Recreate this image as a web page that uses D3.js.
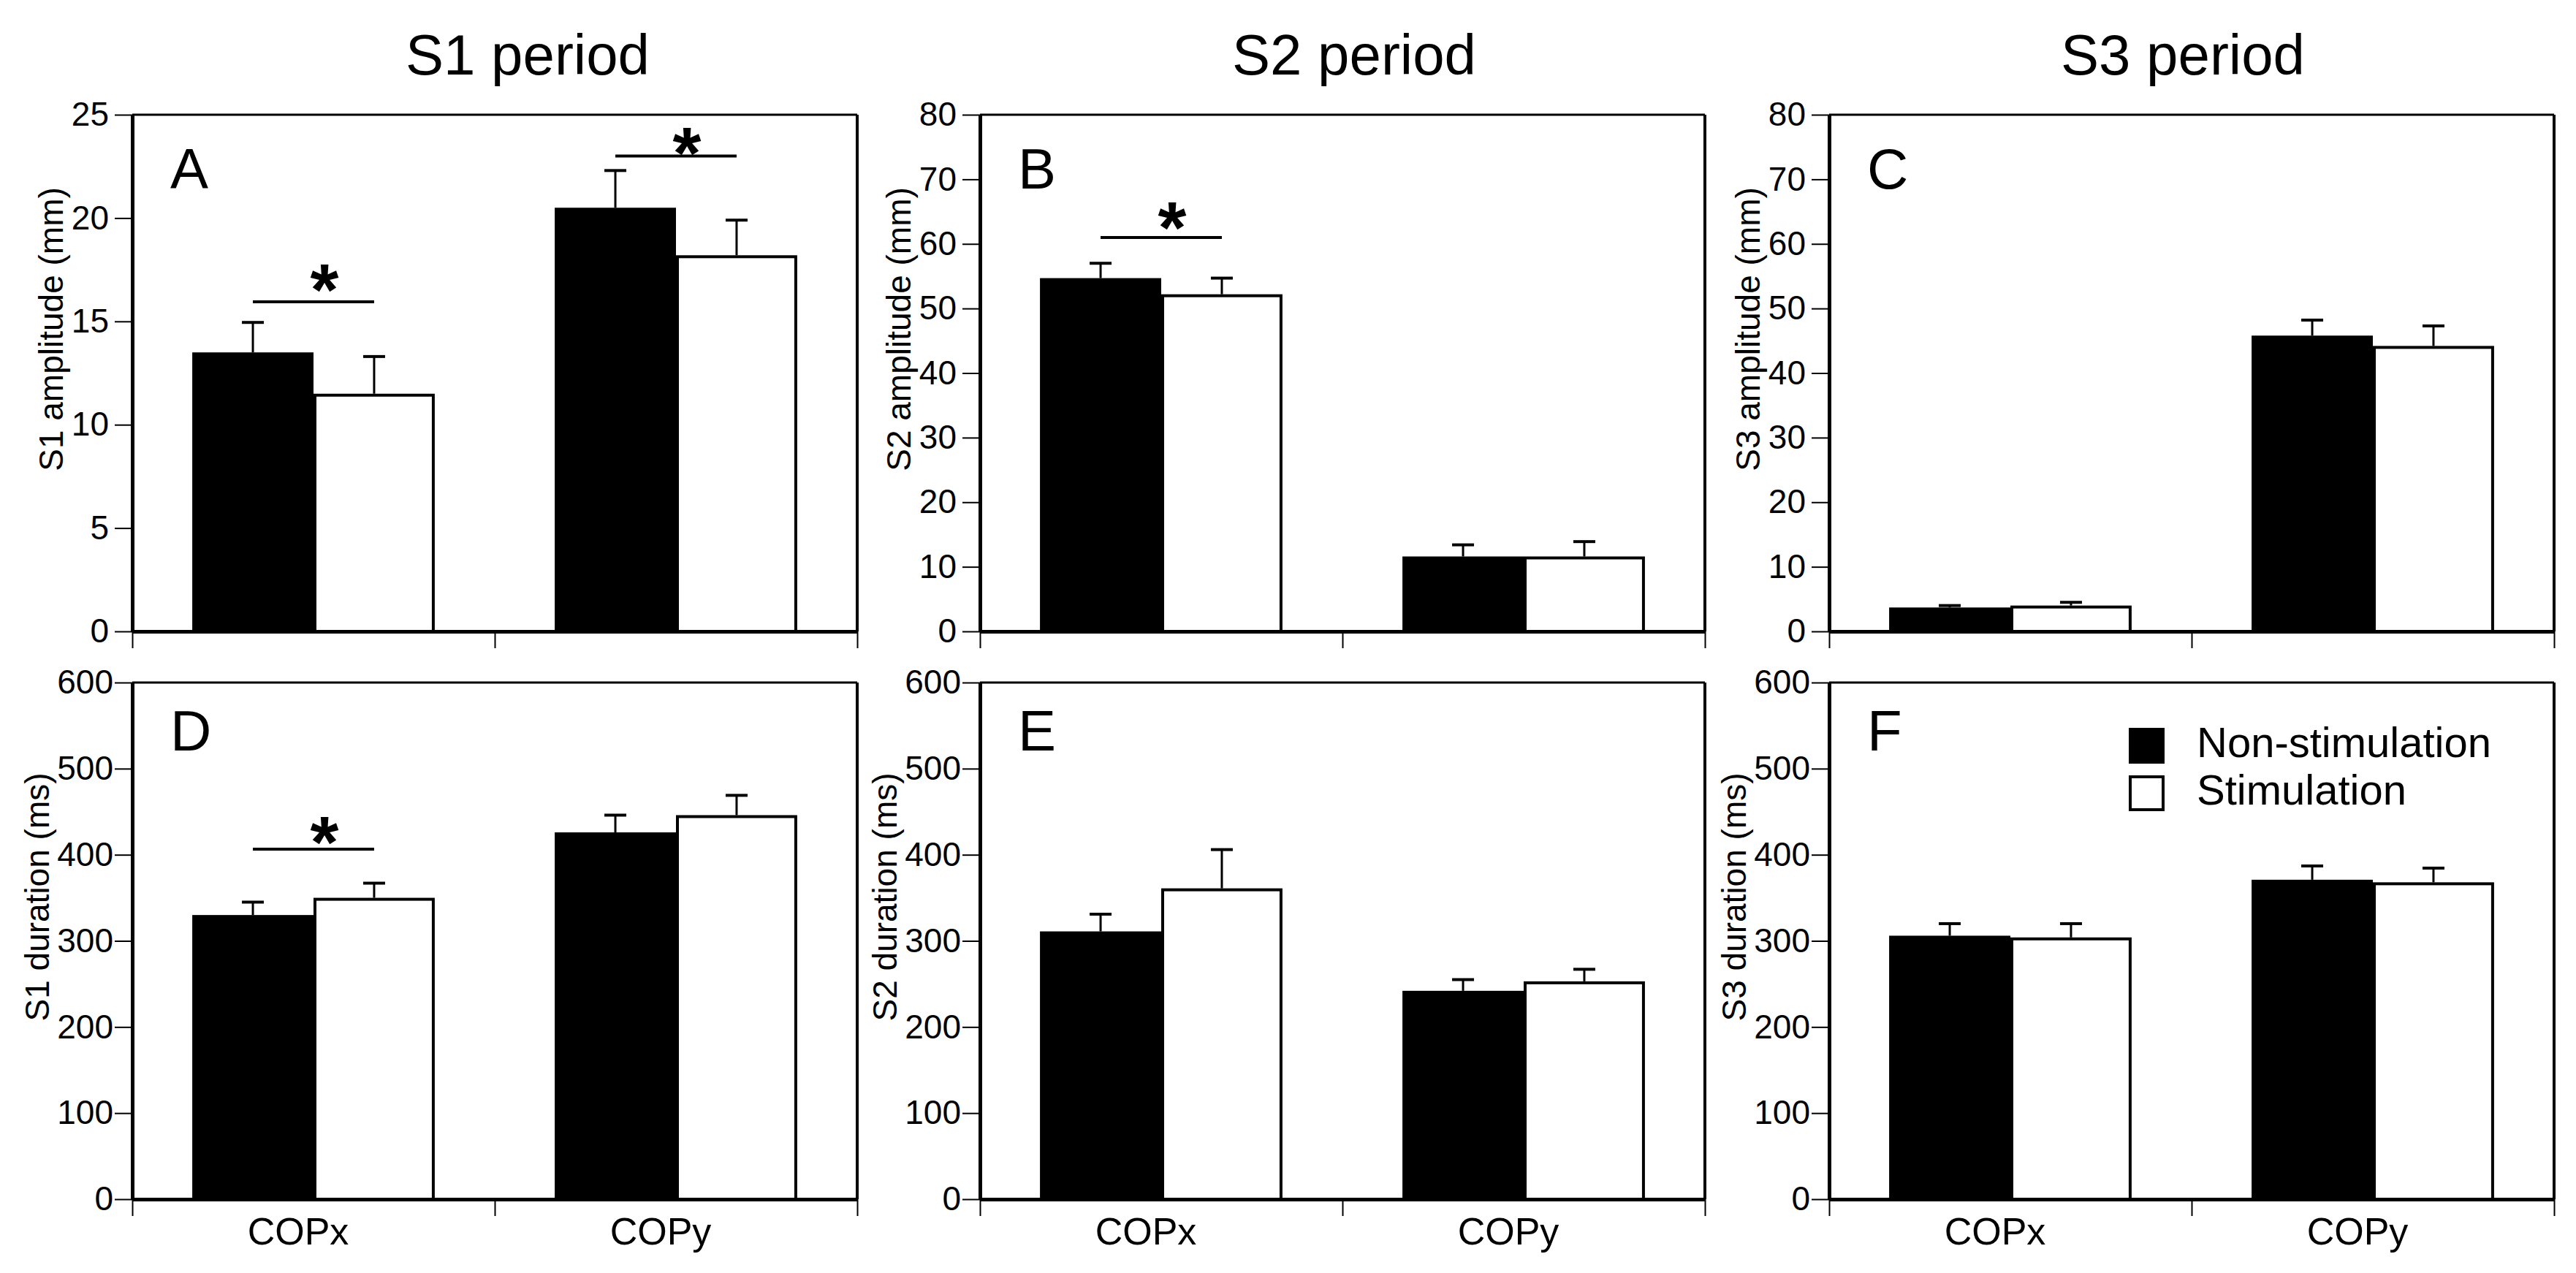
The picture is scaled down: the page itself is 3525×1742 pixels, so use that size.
<!DOCTYPE html>
<html><head><meta charset="utf-8">
<script src="https://cdn.jsdelivr.net/npm/d3@7"></script>
<style>
body{margin:0;background:#fff}
svg{display:block}
text{font-family:"Liberation Sans",Arial,Helvetica,sans-serif;fill:#000}
</style>
</head><body>
<svg id="chart" width="3525" height="1742"></svg>
<script>
// ---------- data ----------
const categories = ["COPx", "COPy"];
const seriesNames = ["Non-stimulation", "Stimulation"];
const periodTitles = ["S1 period", "S2 period", "S3 period"];
const panelLetters = ["A", "B", "C", "D", "E", "F"];
const yAxisTitles = ["S1 amplitude (mm)", "S2 amplitude (mm)", "S3 amplitude (mm)",
                     "S1 duration (ms)", "S2 duration (ms)", "S3 duration (ms)"];
const yMaxima = [25, 80, 80, 600, 600, 600];
const yTickSteps = [5, 10, 10, 100, 100, 100];
// per panel: [COPx, COPy]
const nonStimMeans  = [[13.5, 20.5], [54.7, 11.6], [3.7, 45.8], [330, 426], [311, 242], [306, 371]];
const nonStimErrors = [[1.45, 1.8], [2.3, 1.8], [0.3, 2.4], [15, 20], [20, 13], [14, 16]];
const stimMeans     = [[11.5, 18.2], [52.2, 11.6], [4.0, 44.2], [350, 446], [361, 253], [304, 368]];
const stimErrors    = [[1.8, 1.7], [2.5, 2.3], [0.5, 3.1], [17, 23], [45, 14], [16, 16.5]];
// significance markers
const sigPanels = [0, 0, 1, 3];
const sigCategories = ["COPx", "COPy", "COPx", "COPx"];
const sigLineLevels = [15.95, 23.0, 61.0, 406.6];
const sigStarLevels = [17.3, 23.9, 64.9, 433];

// ---------- layout ----------
const colLeft = [181, 1341, 2503];
const rowTop = [157, 934];
const PW = 992, PH = 707;
const titleX = [722, 1853, 2987];
const titleY = 102;

const svg = d3.select("#chart");
svg.append("rect").attr("width", 3525).attr("height", 1742).attr("fill", "#fff");

periodTitles.forEach((t, c) => {
  svg.append("text").attr("x", titleX[c]).attr("y", titleY)
    .attr("text-anchor", "middle").attr("font-size", 78).text(t);
});

panelLetters.forEach((letter, i) => {
  const col = i % 3, row = Math.floor(i / 3);
  const g = svg.append("g").attr("transform", `translate(${colLeft[col]},${rowTop[row]})`);
  const y = d3.scaleLinear().domain([0, yMaxima[i]]).range([PH, 0]);
  const x0 = d3.scaleBand().domain(categories).range([0, PW]).paddingInner(0.331).paddingOuter(0.1655);
  const x1 = d3.scaleBand().domain(seriesNames).range([0, x0.bandwidth()]);
  const bw = x1.bandwidth();

  const bars = [];
  categories.forEach((c, ci) => {
    bars.push({c, s: seriesNames[0], v: nonStimMeans[i][ci], e: nonStimErrors[i][ci]});
    bars.push({c, s: seriesNames[1], v: stimMeans[i][ci], e: stimErrors[i][ci]});
  });

  // bars
  g.selectAll("rect.bar").data(bars).join("rect").attr("class", "bar")
    .attr("x", d => x0(d.c) + x1(d.s) + (d.s === seriesNames[1] ? 2 : 0))
    .attr("y", d => y(d.v) + (d.s === seriesNames[1] ? 2 : 0))
    .attr("width", d => bw - (d.s === seriesNames[1] ? 4 : 0))
    .attr("height", d => PH - y(d.v) - (d.s === seriesNames[1] ? 2 : 0))
    .attr("fill", d => d.s === seriesNames[0] ? "#000" : "#fff")
    .attr("stroke", d => d.s === seriesNames[0] ? "none" : "#000")
    .attr("stroke-width", 4);

  // error bars (upper only)
  const cx = d => x0(d.c) + x1(d.s) + bw / 2;
  g.selectAll("line.err").data(bars).join("line").attr("class", "err")
    .attr("x1", cx).attr("x2", cx)
    .attr("y1", d => y(d.v)).attr("y2", d => y(d.v + d.e))
    .attr("stroke", "#000").attr("stroke-width", 3);
  g.selectAll("line.cap").data(bars).join("line").attr("class", "cap")
    .attr("x1", d => cx(d) - 15).attr("x2", d => cx(d) + 15)
    .attr("y1", d => y(d.v + d.e)).attr("y2", d => y(d.v + d.e))
    .attr("stroke", "#000").attr("stroke-width", 4);

  // frame top & right
  g.append("line").attr("x1", 0).attr("x2", PW).attr("y1", 0).attr("y2", 0)
    .attr("stroke", "#000").attr("stroke-width", 3);
  g.append("line").attr("x1", PW).attr("x2", PW).attr("y1", 0).attr("y2", PH)
    .attr("stroke", "#000").attr("stroke-width", 4);

  // y axis
  const isDuration = i >= 3;
  const ticks = d3.range(0, yMaxima[i] + yTickSteps[i] / 2, yTickSteps[i]);
  const ya = g.append("g").call(d3.axisLeft(y).tickValues(ticks).tickSize(24).tickSizeOuter(0)
    .tickPadding(isDuration ? 2 : 8));
  ya.select(".domain").attr("stroke", "#000").attr("stroke-width", 5);
  ya.selectAll(".tick line").attr("stroke", "#000").attr("stroke-width", 2);
  ya.selectAll(".tick text").attr("font-size", 46).attr("fill", "#000")
    .attr("font-family", '"Liberation Sans",Arial,sans-serif');

  // x axis ticks (edges + middle)
  const edge = d3.scaleLinear().domain([0, 2]).range([0, PW]);
  const xa = g.append("g").attr("transform", `translate(0,${PH})`)
    .call(d3.axisBottom(edge).tickValues([0, 1, 2]).tickSize(23).tickSizeOuter(0).tickFormat(""));
  xa.select(".domain").attr("stroke", "#000").attr("stroke-width", 5);
  xa.selectAll(".tick line").attr("stroke", "#000").attr("stroke-width", 2);

  if (row === 1) {
    const xl = g.append("g").attr("transform", `translate(0,${PH})`)
      .call(d3.axisBottom(x0).tickSize(0).tickPadding(25));
    xl.select(".domain").remove();
    xl.selectAll(".tick text").attr("font-size", 52).attr("fill", "#000").attr("dx", -21)
      .attr("font-family", '"Liberation Sans",Arial,sans-serif');
  }

  // y axis title
  const titleOff = isDuration ? 114 : 95;
  g.append("text").attr("transform", `translate(${-titleOff},${PH / 2 - 60}) rotate(-90)`)
    .attr("text-anchor", "middle").attr("font-size", 46).text(yAxisTitles[i]);

  // panel letter
  g.append("text").attr("x", 52).attr("y", row === 0 ? 101 : 93)
    .attr("font-size", 78).text(letter);

  // significance
  sigPanels.forEach((p, k) => {
    if (p !== i) return;
    const c = sigCategories[k];
    const xa1 = x0(c) + x1(seriesNames[0]) + bw / 2;
    const xa2 = x0(c) + x1(seriesNames[1]) + bw / 2;
    g.append("line").attr("x1", xa1).attr("x2", xa2)
      .attr("y1", y(sigLineLevels[k])).attr("y2", y(sigLineLevels[k]))
      .attr("stroke", "#000").attr("stroke-width", 4);
    g.append("text").attr("x", (xa1 + xa2) / 2 + 15).attr("y", y(sigStarLevels[k]))
      .attr("dy", "0.56em").attr("text-anchor", "middle")
      .attr("font-size", 100).attr("font-weight", "bold").text("*");
  });

  // legend in last panel
  if (i === 5) {
    const lg = g.append("g").attr("transform", "translate(410,62)");
    const gap = 65;
    seriesNames.forEach((s, si) => {
      lg.append("rect")
        .attr("x", si ? 2 : 0).attr("y", si * gap + (si ? 2 : 0))
        .attr("width", si ? 45 : 49).attr("height", si ? 45 : 49)
        .attr("fill", si ? "#fff" : "#000")
        .attr("stroke", si ? "#000" : "none").attr("stroke-width", 4);
      lg.append("text").attr("x", 93).attr("y", 40 + si * gap)
        .attr("font-size", 58).text(s);
    });
  }
});
</script>
</body></html>
